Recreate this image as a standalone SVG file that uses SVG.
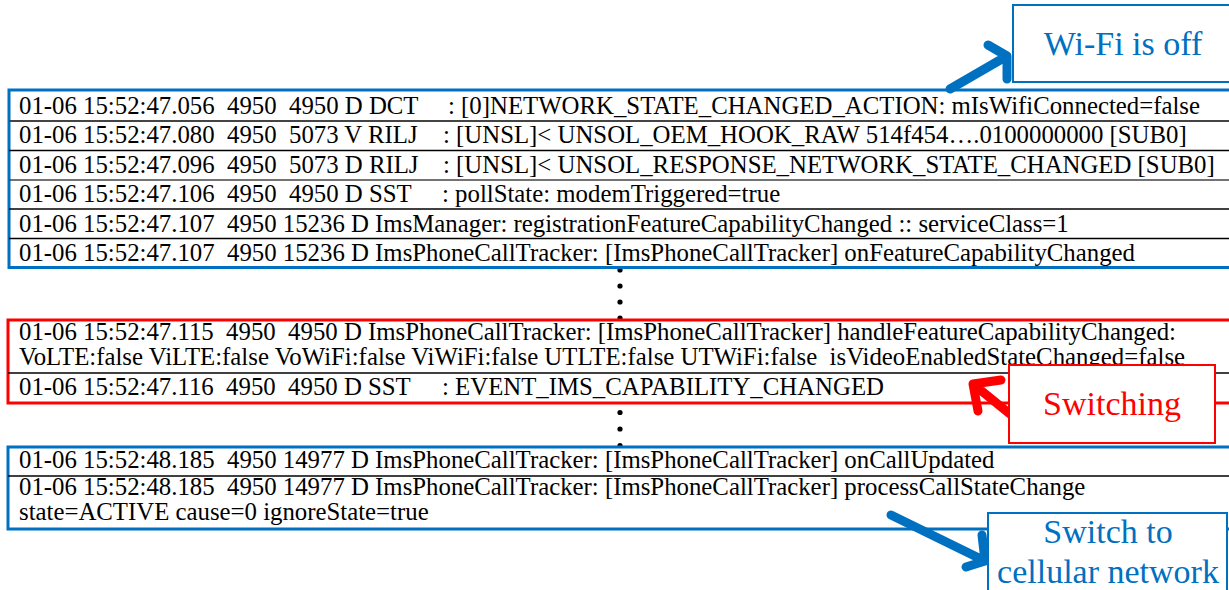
<svg xmlns="http://www.w3.org/2000/svg" width="1229" height="590" viewBox="0 0 1229 590" xml:space="preserve">
  <defs>
    <style>
      .log { font-family: "Liberation Serif", "Times New Roman", serif; font-size: 24.8px; fill: #000; white-space: pre; }
      .lbl { font-family: "Liberation Serif", "Times New Roman", serif; font-size: 34px; text-anchor: middle; }
      .blue { stroke: #0070C0; }
      .red { stroke: #FF0000; }
      .frame { fill: #fff; stroke-width: 3; }
      .sep { stroke: #000; stroke-width: 1.3; }
      .callout { fill: #fff; stroke-width: 2; }
      .arrow { fill: none; stroke-width: 9; stroke-linecap: round; stroke-linejoin: round; }
      .dot { fill: #000; }
    </style>
  </defs>

  <rect width="1229" height="590" fill="#fff"/>

  <!-- vertical ellipses between log groups (partly hidden under the frames) -->
  <g id="ellipsis-1">
    <circle class="dot" cx="620" cy="270" r="2.6"/>
    <circle class="dot" cx="620" cy="286" r="2.6"/>
    <circle class="dot" cx="620" cy="302" r="2.6"/>
    <circle class="dot" cx="620" cy="318" r="2.6"/>
  </g>
  <g id="ellipsis-2">
    <circle class="dot" cx="620" cy="396" r="2.6"/>
    <circle class="dot" cx="620" cy="412.5" r="2.6"/>
    <circle class="dot" cx="620" cy="429" r="2.6"/>
    <circle class="dot" cx="620" cy="445.5" r="2.6"/>
  </g>

  <!-- first log group: Wi-Fi disconnect -->
  <g id="log-wifi-off">
    <rect class="frame blue" x="9" y="90" width="1240" height="177.5"/>
    <line class="sep" x1="9" y1="121" x2="1249" y2="121" style="stroke:#444;stroke-width:2"/>
    <line class="sep" x1="9" y1="150.5" x2="1249" y2="150.5"/>
    <line class="sep" x1="9" y1="180" x2="1249" y2="180" style="stroke:#444;stroke-width:1.6"/>
    <line class="sep" x1="9" y1="209" x2="1249" y2="209"/>
    <line class="sep" x1="9" y1="238.5" x2="1249" y2="238.5"/>
    <text class="log" x="19" y="114">01-06 15:52:47.056  4950  4950 D DCT<tspan x="448">: [0]NETWORK_STATE_CHANGED_ACTION: mIsWifiConnected=false</tspan></text>
    <text class="log" x="19" y="143">01-06 15:52:47.080  4950  5073 V RILJ<tspan x="443">: [UNSL]&lt; UNSOL_OEM_HOOK_RAW 514f454….0100000000 [SUB0]</tspan></text>
    <text class="log" x="19" y="173">01-06 15:52:47.096  4950  5073 D RILJ<tspan x="443">: [UNSL]&lt; UNSOL_RESPONSE_NETWORK_STATE_CHANGED [SUB0]</tspan></text>
    <text class="log" x="19" y="202">01-06 15:52:47.106  4950  4950 D SST<tspan x="442">: pollState: modemTriggered=true</tspan></text>
    <text class="log" x="19" y="232">01-06 15:52:47.107  4950 15236 D ImsManager: registrationFeatureCapabilityChanged :: serviceClass=1</text>
    <text class="log" x="19" y="261">01-06 15:52:47.107  4950 15236 D ImsPhoneCallTracker: [ImsPhoneCallTracker] onFeatureCapabilityChanged</text>
  </g>

  <!-- second log group: capability switch -->
  <g id="log-switching">
    <rect class="frame red" x="8" y="320" width="1240" height="83"/>
    <line class="sep" x1="8" y1="373" x2="1248" y2="373"/>
    <text class="log" x="19" y="340">01-06 15:52:47.115  4950  4950 D ImsPhoneCallTracker: [ImsPhoneCallTracker] handleFeatureCapabilityChanged:<tspan x="19" y="365">VoLTE:false ViLTE:false VoWiFi:false ViWiFi:false UTLTE:false UTWiFi:false  isVideoEnabledStateChanged=false</tspan></text>
    <text class="log" x="19" y="395">01-06 15:52:47.116  4950  4950 D SST<tspan x="442">: EVENT_IMS_CAPABILITY_CHANGED</tspan></text>
  </g>

  <!-- third log group: call moved to cellular -->
  <g id="log-cellular">
    <rect class="frame blue" x="8" y="447" width="1240" height="82"/>
    <line class="sep" x1="8" y1="476" x2="1248" y2="476"/>
    <text class="log" x="19" y="468">01-06 15:52:48.185  4950 14977 D ImsPhoneCallTracker: [ImsPhoneCallTracker] onCallUpdated</text>
    <text class="log" x="19" y="495">01-06 15:52:48.185  4950 14977 D ImsPhoneCallTracker: [ImsPhoneCallTracker] processCallStateChange<tspan x="19" y="520">state=ACTIVE cause=0 ignoreState=true</tspan></text>
  </g>

  <!-- pointer arrows from the callouts to the log groups -->
  <g id="connectors">
    <path class="arrow blue" d="M950 89 L1007 56 M988 45 L1007 56 L1007 79"/>
    <path class="arrow red" d="M1010 414 L973 384 M1001 380 L973 384 L978 411"/>
    <path class="arrow blue" d="M891 515 L985 561 M966 567 L985 561 L982 535"/>
  </g>

  <!-- callouts -->
  <g id="callout-wifi-off">
    <rect class="callout blue" x="1013" y="5" width="230" height="77"/>
    <text class="lbl" x="1123" y="55" fill="#0070C0">Wi-Fi is off</text>
  </g>
  <g id="callout-switching">
    <rect class="callout red" x="1009" y="365" width="206" height="78"/>
    <text class="lbl" x="1112" y="415" fill="#FF0000">Switching</text>
  </g>
  <g id="callout-cellular">
    <rect class="callout blue" x="988" y="513" width="239" height="90"/>
    <text class="lbl" x="1108" y="543" fill="#0070C0">Switch to</text>
    <text class="lbl" x="1108" y="583" fill="#0070C0">cellular network</text>
  </g>
</svg>
